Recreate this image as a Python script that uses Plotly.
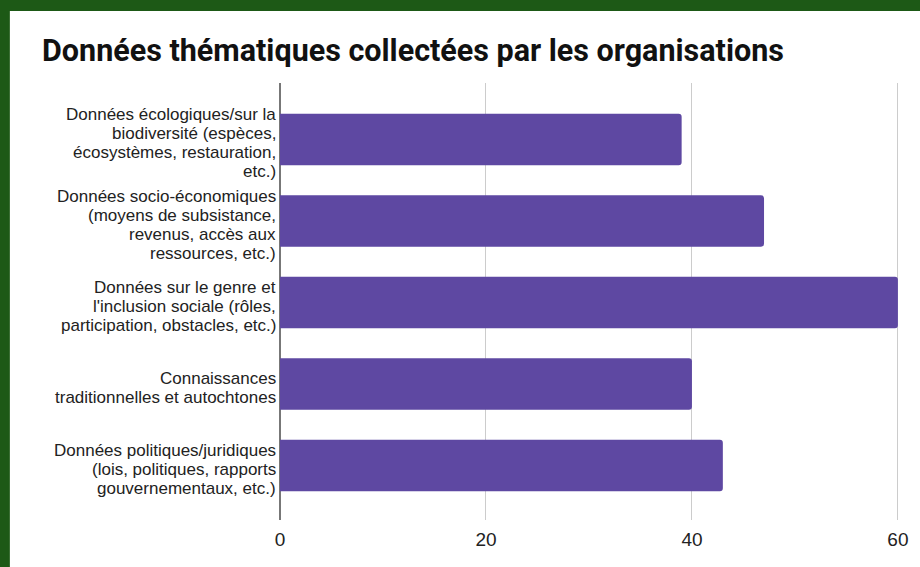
import plotly.graph_objects as go

# categories (top to bottom) and number of organisations
categories = [
    "Données écologiques/sur la<br>biodiversité (espèces,<br>écosystèmes, restauration,<br>etc.)",
    "Données socio-économiques<br>(moyens de subsistance,<br>revenus, accès aux<br>ressources, etc.)",
    "Données sur le genre et<br>l'inclusion sociale (rôles,<br>participation, obstacles, etc.)",
    "Connaissances<br>traditionnelles et autochtones",
    "Données politiques/juridiques<br>(lois, politiques, rapports<br>gouvernementaux, etc.)",
]
counts = [39, 47, 60, 40, 43]
x_ticks = [0, 20, 40, 60]

title_text = "Données thématiques collectées par les organisations"

bar_colour = "#5E48A2"
green = "#1d5916"
label_font = "Liberation Sans, Arial, sans-serif"
line_step = 19  # line spacing of the category labels

fig = go.Figure()

fig.add_trace(go.Bar(
    x=counts,
    y=list(range(len(categories))),
    orientation="h",
    marker=dict(color=bar_colour, line=dict(width=0)),
    width=0.63,
    showlegend=False,
    hoverinfo="x",
))

# white card sitting on the green background
fig.add_shape(
    type="rect", xref="paper", yref="paper", layer="below",
    x0=-0.435, x1=1.05, y0=-0.2, y1=1.165,
    fillcolor="white", line=dict(width=0),
)

# category labels, one annotation per line so the leading stays tight
for i, cat in enumerate(categories):
    lines = cat.split("<br>")
    n = len(lines)
    for j, line in enumerate(lines):
        fig.add_annotation(
            x=0, xref="paper", xanchor="right", xshift=-2,
            y=i, yref="y", yanchor="middle",
            yshift=((n - 1) / 2 - j) * line_step - 4,
            text=line, showarrow=False,
            font=dict(family=label_font, size=17, color="#222222"),
            align="right",
        )

fig.update_layout(
    width=920, height=567,
    margin=dict(l=280, r=15, t=83, b=47),
    paper_bgcolor=green,
    plot_bgcolor="white",
    barcornerradius=3,
    title=dict(
        text=f"<b>{title_text}</b>",
        xref="container", yref="container",
        x=42 / 920, xanchor="left",
        y=1 - 50 / 567, yanchor="middle",
        font=dict(family="Roboto, sans-serif", size=30.5, color="#111111"),
    ),
    xaxis=dict(
        range=[0, 60.3],
        tickvals=x_ticks,
        showgrid=True, gridcolor="#cccccc", gridwidth=1,
        zeroline=True, zerolinecolor="#777777", zerolinewidth=1.5,
        showline=False, ticks="",
        tickfont=dict(family=label_font, size=19, color="#222222"),
        ticklabelstandoff=6,
    ),
    yaxis=dict(
        range=[4.669, -0.693],
        showticklabels=False, showgrid=False, zeroline=False,
        ticks="",
    ),
)

fig.write_html(
    "out.html",
    config={"displayModeBar": False},
    post_script="document.body.style.margin='0';document.body.style.background='#1d5916';",
)
